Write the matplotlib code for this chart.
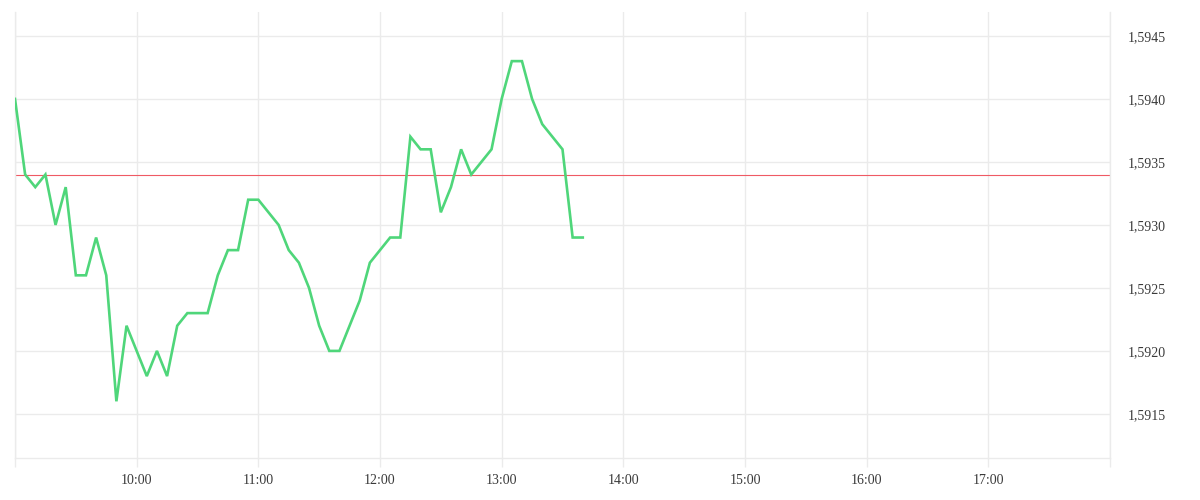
import pandas as pd
import numpy as np
import matplotlib
matplotlib.use('Agg')
import matplotlib.pyplot as plt
import matplotlib.dates as mdates
from matplotlib.ticker import FixedLocator, FuncFormatter

# 5 minute quotes, 09:00 - 13:40
times = pd.date_range('2020-01-01 09:00', '2020-01-01 13:40', freq='5min')
prices = [1.5940, 1.5934, 1.5933, 1.5934, 1.5930, 1.5933, 1.5926, 1.5926,
          1.5929, 1.5926, 1.5916, 1.5922, 1.5920, 1.5918, 1.5920, 1.5918,
          1.5922, 1.5923, 1.5923, 1.5923, 1.5926, 1.5928, 1.5928, 1.5932,
          1.5932, 1.5931, 1.5930, 1.5928, 1.5927, 1.5925, 1.5922, 1.5920,
          1.5920, 1.5922, 1.5924, 1.5927, 1.5928, 1.5929, 1.5929, 1.5937,
          1.5936, 1.5936, 1.5931, 1.5933, 1.5936, 1.5934, 1.5935, 1.5936,
          1.5940, 1.5943, 1.5943, 1.5940, 1.5938, 1.5937, 1.5936, 1.5929,
          1.5929]
prev_close = 1.5934
y_ticks = [1.5915, 1.5920, 1.5925, 1.5930, 1.5935, 1.5940, 1.5945]
hours = pd.date_range('2020-01-01 09:00', '2020-01-01 18:00', freq='1h')

grid_col = '#ebebeb'
text_col = '#3a3a3a'

fig = plt.figure(figsize=(12, 5), dpi=100)
ax = fig.add_axes([0.0125, 0.084, 0.9125, 0.892])

ax.plot(times, prices, color='#4fd67a', lw=1.9, solid_joinstyle='miter', zorder=3)
ax.axhline(prev_close, color='#ef5a64', lw=0.8, zorder=2)

ax.set_xlim(mdates.date2num(hours[0]), mdates.date2num(hours[-1]))
ax.set_ylim(1.59115, 1.59469)

ax.xaxis.set_major_locator(FixedLocator(mdates.date2num(hours)))
ax.xaxis.set_major_formatter(FuncFormatter(
    lambda v, p: '' if p in (0, len(hours) - 1) else mdates.num2date(v).strftime('%H:%M')))
ax.set_yticks(y_ticks)
ax.yaxis.set_major_formatter(FuncFormatter(lambda v, p: f'{v:.4f}'.replace('.', ',')))
ax.yaxis.tick_right()

ax.grid(True, color=grid_col, lw=1, zorder=0)
ax.set_axisbelow(True)
for s in ['left', 'right', 'bottom']:
    ax.spines[s].set_color(grid_col)
    ax.spines[s].set_linewidth(1)
ax.spines['top'].set_visible(False)

ax.tick_params(axis='x', length=6.5, width=1, color=grid_col, pad=5,
               labelsize=10, labelcolor=text_col)
ax.tick_params(axis='y', length=0, pad=13, labelsize=10, labelcolor=text_col)
for lab in ax.get_xticklabels() + ax.get_yticklabels():
    lab.set_family('Liberation Serif')

fig.savefig('out.png', dpi=100)
